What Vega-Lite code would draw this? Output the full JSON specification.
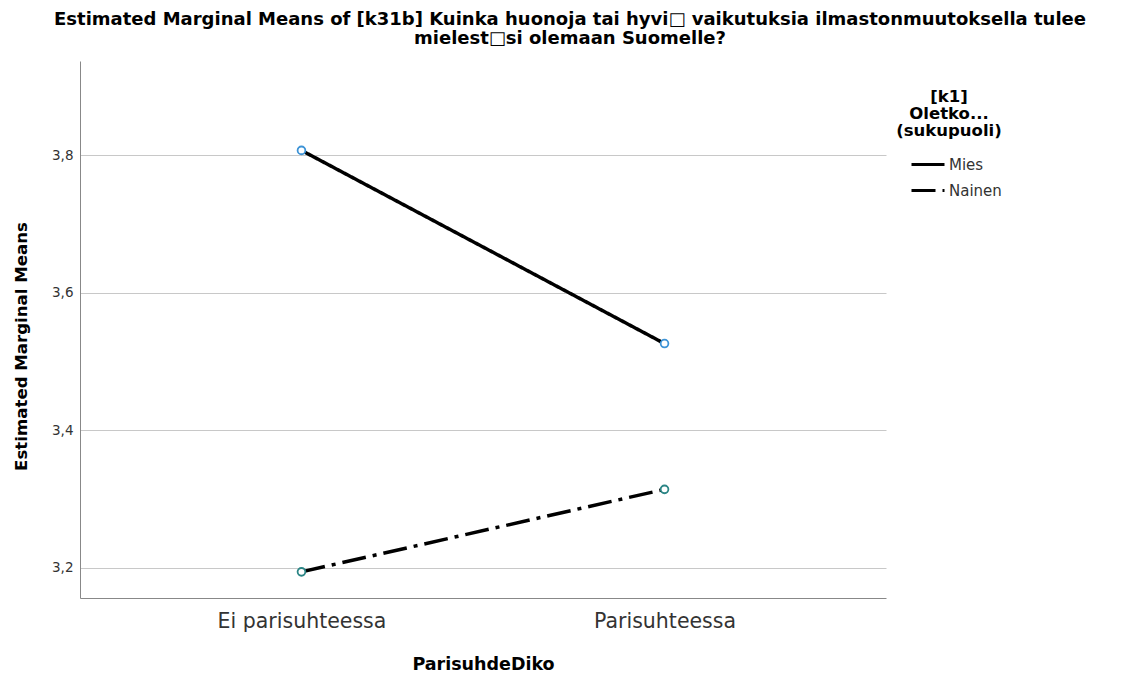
{
  "$schema": "https://vega.github.io/schema/vega-lite/v6.json",
  "width": 806,
  "height": 537,
  "autosize": {"type": "none"},
  "padding": {"left": 80, "top": 61, "right": 241, "bottom": 78},
  "background": "white",
  "title": {
    "text": ["Estimated Marginal Means of [k31b] Kuinka huonoja tai hyvi□ vaikutuksia ilmastonmuutoksella tulee", "mielest□si olemaan Suomelle?"],
    "anchor": "middle",
    "dx": 87,
    "offset": 13,
    "font": "DejaVu Sans",
    "fontSize": 18,
    "fontWeight": "bold",
    "lineHeight": 19.5,
    "color": "black"
  },
  "data": {
    "values": [
      {"ParisuhdeDiko": "Ei parisuhteessa", "sukupuoli": "Mies", "mean": 3.807},
      {"ParisuhdeDiko": "Parisuhteessa", "sukupuoli": "Mies", "mean": 3.526},
      {"ParisuhdeDiko": "Ei parisuhteessa", "sukupuoli": "Nainen", "mean": 3.194},
      {"ParisuhdeDiko": "Parisuhteessa", "sukupuoli": "Nainen", "mean": 3.314}
    ]
  },
  "encoding": {
    "x": {
      "field": "ParisuhdeDiko",
      "type": "nominal",
      "scale": {"type": "point", "padding": 0.61},
      "axis": {
        "title": "ParisuhdeDiko",
        "labelAngle": 0,
        "ticks": false,
        "grid": false,
        "domainColor": "#888888",
        "labelFont": "DejaVu Sans",
        "labelFontSize": 20.5,
        "labelColor": "#333333",
        "labelPadding": 13,
        "titleFont": "DejaVu Sans",
        "titleFontSize": 17.5,
        "titleFontWeight": "bold",
        "titleColor": "black",
        "titlePadding": 24
      }
    },
    "y": {
      "field": "mean",
      "type": "quantitative",
      "scale": {"domain": [3.156, 3.937], "nice": false, "zero": false},
      "axis": {
        "title": "Estimated Marginal Means",
        "titleY": 285,
        "values": [3.2, 3.4, 3.6, 3.8],
        "labelExpr": "replace(format(datum.value, '.1f'), '.', ',')",
        "ticks": false,
        "grid": true,
        "gridColor": "#c8c8c8",
        "gridWidth": 1,
        "domainColor": "#888888",
        "labelFont": "DejaVu Sans",
        "labelFontSize": 13.5,
        "labelColor": "#333333",
        "labelPadding": 7,
        "titleFont": "DejaVu Sans",
        "titleFontSize": 16.6,
        "titleFontWeight": "bold",
        "titleColor": "black",
        "titlePadding": 22
      }
    }
  },
  "layer": [
    {
      "mark": {"type": "line", "color": "black", "strokeWidth": 3.5},
      "encoding": {
        "detail": {"field": "sukupuoli"},
        "strokeDash": {
          "field": "sukupuoli",
          "type": "nominal",
          "scale": {"domain": ["Mies", "Nainen"], "range": [[1, 0], [24, 7, 4, 7]]},
          "legend": {
            "title": ["[k1]", "Oletko...", "(sukupuoli)"],
            "orient": "none",
            "legendX": 816,
            "legendY": 28,
            "titleFont": "DejaVu Sans",
            "titleFontSize": 16.5,
            "titleFontWeight": "bold",
            "titleColor": "black",
            "titleAlign": "center",
            "titleAnchor": "middle",
            "titleLineHeight": 17,
            "titlePadding": 7,
            "symbolType": "stroke",
            "symbolStrokeWidth": 3,
            "symbolStrokeColor": "black",
            "symbolSize": 1089,
            "symbolOffset": 13,
            "labelOffset": 3,
            "labelFont": "DejaVu Sans",
            "labelFontSize": 15,
            "labelColor": "#333333",
            "rowPadding": -7
          }
        }
      }
    },
    {
      "mark": {"type": "point", "filled": false, "fill": "white", "fillOpacity": 1, "strokeWidth": 1.8, "size": 60, "opacity": 1},
      "encoding": {
        "stroke": {
          "condition": {"test": "datum.sukupuoli === 'Mies'", "value": "#3d93d6"},
          "value": "#2b8585"
        }
      }
    }
  ],
  "config": {"view": {"stroke": null}}
}
